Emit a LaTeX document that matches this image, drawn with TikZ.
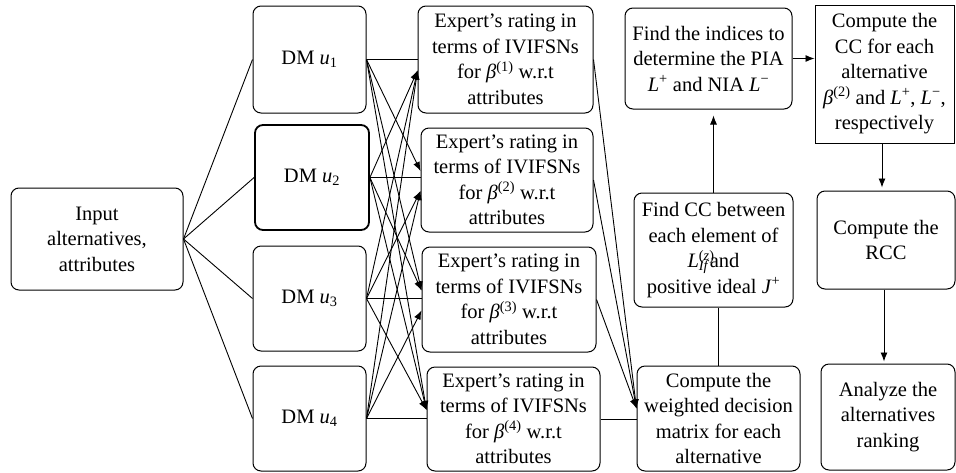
\documentclass[tikz,border=0pt]{standalone}
\usepackage{fontspec}
\setmainfont{Liberation Serif}
\usetikzlibrary{arrows.meta,calc}
\tikzset{
  box/.style={draw, rounded corners=8pt, align=center, inner sep=0pt, line width=1pt,
    font=\fontsize{20.5}{25.5}\selectfont},
  sqbox/.style={box, rounded corners=0pt},
  conn/.style={line width=0.9pt},
  arr/.style={conn, -{Latex[length=9pt,width=7pt]}},
}
\newcommand{\bt}[1]{\textit{β}\textsuperscript{(#1)}}
\begin{document}
\begin{tikzpicture}[x=1pt,y=-1pt]
\useasboundingbox (0,0) rectangle (956,472);
% left
\node[box, minimum width=172pt, minimum height=102pt] (inp) at (97,239) {Input\\alternatives,\\attributes};
\node[box, minimum width=113pt, minimum height=107pt] (dm1) at (309.5,59.5) {DM \textit{u}\textsubscript{1}};
\node[box, minimum width=114pt, minimum height=105pt, line width=1.8pt] (dm2) at (312,177.5) {DM \textit{u}\textsubscript{2}};
\node[box, minimum width=113pt, minimum height=105pt] (dm3) at (309.5,298.5) {DM \textit{u}\textsubscript{3}};
\node[box, minimum width=113pt, minimum height=105pt] (dm4) at (309.5,418.5) {DM \textit{u}\textsubscript{4}};
% experts
\node[box, minimum width=175pt, minimum height=107pt] (e1) at (505.5,59.5) {Expert’s rating in\\terms of IVIFSNs\\for \bt{1} w.r.t\\attributes};
\node[box, minimum width=172pt, minimum height=104pt] (e2) at (507,180) {Expert’s rating in\\terms of IVIFSNs\\for \bt{2} w.r.t\\attributes};
\node[box, minimum width=174pt, minimum height=105pt] (e3) at (509,299.5) {Expert’s rating in\\terms of IVIFSNs\\for \bt{3} w.r.t\\attributes};
\node[box, minimum width=173pt, minimum height=104pt] (e4) at (513.5,419) {Expert’s rating in\\terms of IVIFSNs\\for \bt{4} w.r.t\\attributes};
% right part
\node[box, minimum width=167pt, minimum height=101pt] (fi) at (708.5,58.5) {Find the indices to\\determine the PIA\\\textit{L}\textsuperscript{+} and NIA \textit{L}\textsuperscript{−}};
\node[sqbox, minimum width=139pt, minimum height=138pt] (cc) at (884.5,74) {Compute the\\CC for each\\alternative\\\bt{2} and \textit{L}\textsuperscript{+}, \textit{L}\textsuperscript{−},\\respectively};
\node[box, minimum width=159pt, minimum height=114pt] (fcc) at (713.5,250) {Find CC between\\each element of\\\textit{L}\rlap{\textsuperscript{(\textit{z})}}\textsubscript{\textit{If}}and\\positive ideal \textit{J}\textsuperscript{+}};
\node[box, minimum width=163pt, minimum height=105pt] (wd) at (718.5,418.5) {Compute the\\weighted decision\\matrix for each\\alternative};
\node[box, minimum width=138pt, minimum height=98pt] (rcc) at (886,240) {Compute the\\RCC};
\node[box, minimum width=134pt, minimum height=106pt] (an) at (888,417) {Analyze the\\alternatives\\ranking};
% input to DMs
\foreach \i in {1,...,4} \draw[conn] (inp.east) -- (dm\i.west);
% target points on expert boxes
\foreach \j in {1,...,4} {
  \coordinate (e\j up) at ($(e\j.west)+(0,-9)$);
  \coordinate (e\j dn) at ($(e\j.west)+(0,11)$);
}
\foreach \i in {1,...,4} {
  \foreach \j in {1,...,4} {
    \ifnum\i=\j
      \draw[conn] (dm\i.east) -- (dm\i.east -| e\j.west);
    \else\ifnum\i<\j
      \draw[arr] (dm\i.east) -- (e\j up);
    \else
      \draw[arr] (dm\i.east) -- (e\j dn);
    \fi\fi
  }
}
% experts to weighted matrix
\coordinate (wdin) at ($(wd.west)+(0,-10)$);
\foreach \j in {1,2,3} \draw[arr] (e\j.east) -- (wdin);
\draw[conn] (e4.east) -- (e4.east -| wd.west);
% flow on right
\draw[conn] (wd.north) -- (wd.north |- fcc.south);
\draw[arr, shorten >=6pt] (fcc.north) -- (fcc.north |- fi.south);
\draw[arr] (fi.east) -- (fi.east -| cc.west);
\draw[arr, shorten >=3pt] (cc.south -| 882,0) -- (882,0 |- rcc.north);
\draw[arr, shorten >=2pt] (rcc.south -| 884,0) -- (884,0 |- an.north);
\end{tikzpicture}
\end{document}
